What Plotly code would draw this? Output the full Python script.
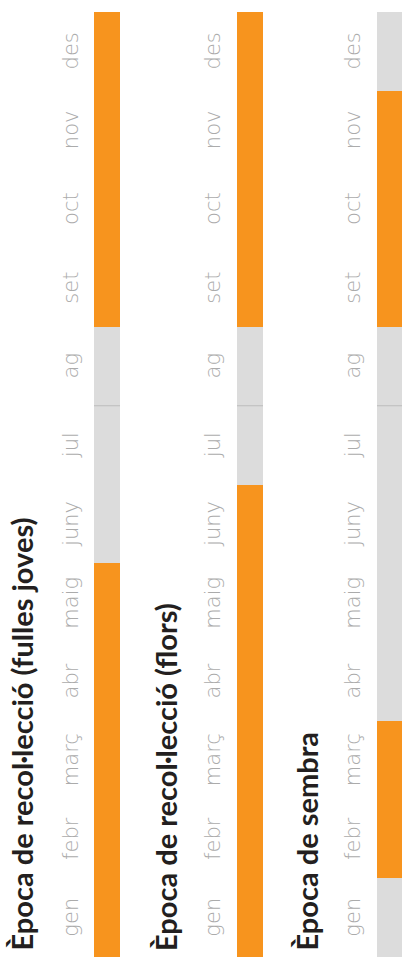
import plotly.graph_objects as go

months = ["gen", "febr", "març", "abr", "maig", "juny", "jul", "ag", "set", "oct", "nov", "des"]
titles = ["Època de recol·lecció (fulles joves)", "Època de recol·lecció (flors)", "Època de sembra"]
# 1 = active month (orange), 0 = inactive (gray)
fulles_joves = [1, 1, 1, 1, 1, 0, 0, 0, 1, 1, 1, 1]
flors = [1, 1, 1, 1, 1, 1, 0, 0, 1, 1, 1, 1]
sembra = [0, 1, 1, 0, 0, 0, 0, 0, 1, 1, 1, 0]
series = [fulles_joves, flors, sembra]

# layout constants (pixels in a 402x957 canvas)
W, H = 402, 957
bar_x = [107, 250, 390]
bar_w = 26
label_x = [71, 213, 353]
title_x = [22, 165, 307]
ORANGE = "#F7941E"
GRAY = "#DCDCDC"
month_px = 78.75
yrange_top = 12 + 12 / month_px

fig = go.Figure()
for g, vals in enumerate(series):
    fig.add_trace(go.Bar(
        x=[bar_x[g]] * len(months),
        y=[1] * len(months),
        base=list(range(len(months))),
        width=bar_w,
        marker=dict(color=[ORANGE if v else GRAY for v in vals], line=dict(width=0)),
        hoverinfo="skip",
        showlegend=False,
    ))
    # separator between two adjacent inactive months at the half-year split
    for i in range(len(months) - 1):
        if i == 6 and vals[i] == 0 and vals[i + 1] == 0:
            fig.add_shape(type="line", x0=bar_x[g] - bar_w / 2, x1=bar_x[g] + bar_w / 2,
                          y0=i + 1, y1=i + 1, line=dict(color="#BDBDBD", width=1))
    for i, m in enumerate(months):
        fig.add_annotation(x=label_x[g], y=i + 0.5, text=m, textangle=-90, showarrow=False,
                           xanchor="center", yanchor="middle",
                           font=dict(family="DejaVu Sans", size=21, color="#ABABAB", weight=200))
    fig.add_annotation(x=title_x[g], y=0.05, text=titles[g], textangle=-90, showarrow=False,
                       xanchor="center", yanchor="bottom",
                       font=dict(family="Lato", size=29, color="#231F20", weight="bold"))

fig.update_layout(
    width=W, height=H, margin=dict(l=0, r=0, t=0, b=0),
    paper_bgcolor="white", plot_bgcolor="white",
    barmode="overlay", bargap=0,
    xaxis=dict(range=[0, W], visible=False, fixedrange=True),
    yaxis=dict(range=[0, yrange_top], visible=False, fixedrange=True),
)
fig.write_html("out.html", config={"displayModeBar": False, "staticPlot": True},
               post_script="document.body.style.margin='0';document.body.style.overflow='hidden';")
